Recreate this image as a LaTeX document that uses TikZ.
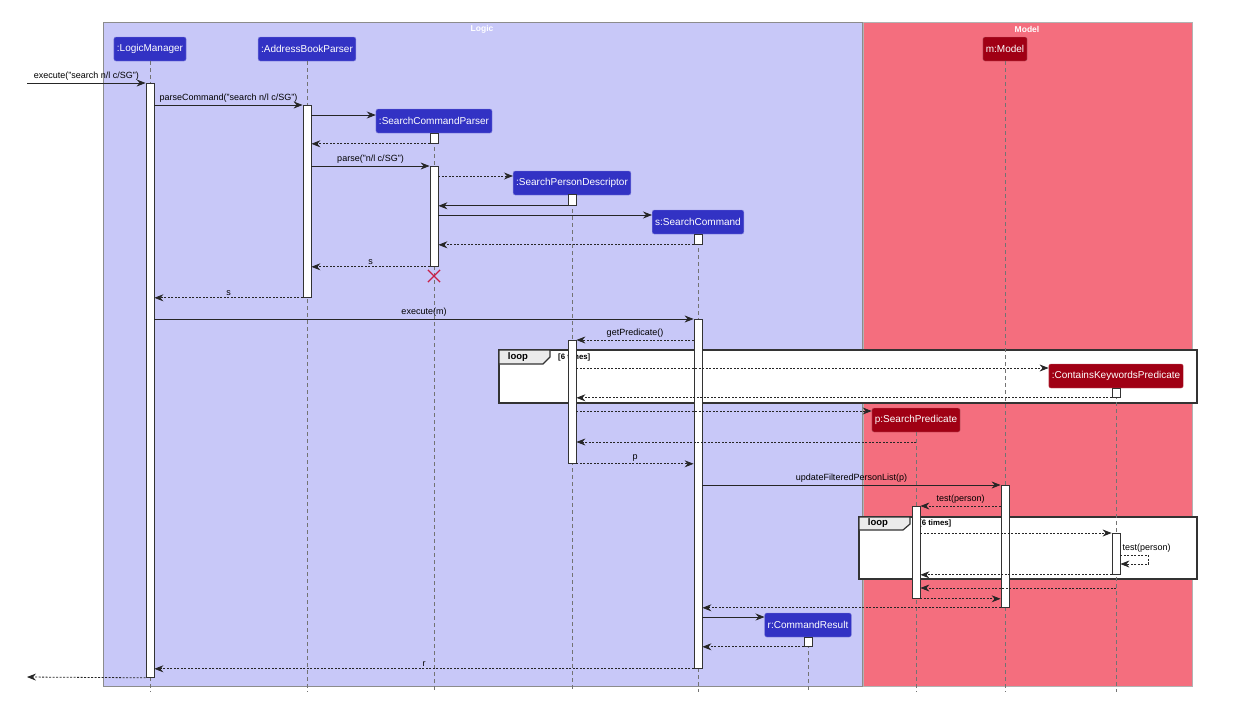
\documentclass[tikz,border=0pt]{standalone}
\usepackage{fontspec}
\setmainfont{Liberation Sans}
\usetikzlibrary{arrows.meta, positioning, shapes.misc}
\definecolor{logicbg}{RGB}{200,200,248}
\definecolor{modelbg}{RGB}{244,110,126}
\definecolor{logicfg}{RGB}{50,50,196}
\definecolor{modelfg}{RGB}{160,0,20}
\definecolor{lifegray}{gray}{0.45}
\definecolor{killred}{RGB}{200,30,70}

\begin{document}
\begin{tikzpicture}[x=1pt, y=-1pt,
  lpart/.style={fill=logicfg, draw=logicfg!60!white, rounded corners=2pt, text=white, font=\fontsize{10}{12}\selectfont, minimum height=24pt, inner xsep=3pt, inner ysep=0pt},
  mpart/.style={lpart, fill=modelfg, draw=modelfg!60!white},
  act/.style={draw=black!80, fill=white, minimum width=8pt, inner sep=0pt, anchor=north, line width=0.8pt},
  life/.style={draw=lifegray, dash pattern=on 4pt off 3pt, line width=0.7pt},
  call/.style={-{Stealth[length=9pt, width=7pt, inset=3pt]}, line width=0.8pt, draw=black!85},
  ret/.style={call, dash pattern=on 2pt off 1.5pt},
  lbl/.style={font=\fontsize{9}{10}\selectfont, above, inner sep=2pt},
  title/.style={font=\bfseries\fontsize{8.5}{10}\selectfont, text=white},
  loopbox/.style={draw=black!80, line width=1.5pt, fill=white},
  looptab/.style={draw=black!80, line width=1.2pt, fill=black!8},
  looptxt/.style={font=\bfseries\fontsize{9.5}{10}\selectfont},
  condtxt/.style={font=\bfseries\fontsize{7.8}{8}\selectfont, anchor=west, inner sep=0pt}
]
\useasboundingbox (0,0) rectangle (1244,705);
\fill[white] (0,0) rectangle (1244,705);

% boxes
\draw[fill=logicbg, draw=black!45] (103,22) rectangle (862,686);
\node[title] (logict) at (482,29) {Logic};
\draw[fill=modelbg, draw=black!30] (863,22) rectangle (1192,686);
\node[title] (modelt) at (1027,29) {Model};

% loops
\draw[loopbox] (499,350) rectangle (1197,403);
\draw[looptab] (499,350) -- (550,350) -- (550,357) -- (543,364) -- (499,364) -- cycle;
\node[looptxt] (loop1) at (518,357) {loop};
\node[condtxt] (cond1) at (558,357) {[6 times]};
\draw[loopbox] (859,517) rectangle (1197,579);
\draw[looptab] (859,517) -- (910,517) -- (910,524) -- (903,530) -- (859,530) -- cycle;
\node[looptxt] (loop2) at (878,523) {loop};
\node[condtxt] (cond2) at (919,523) {[6 times]};

% participants
\node[lpart] (lm) at (150,49) {:LogicManager};
\node[lpart] (abp) at (307,49) {:AddressBookParser};
\node[lpart] (scp) at (434,121) {:SearchCommandParser};
\node[lpart] (spd) at (572,183) {:SearchPersonDescriptor};
\node[lpart] (sc) at (698,222) {s:SearchCommand};
\node[lpart] (cr) at (808,625) {r:CommandResult};
\node[mpart] (mdl) at (1005,49) {m:Model};
\node[mpart] (ckp) at (1116,376) {:ContainsKeywordsPredicate};
\node[mpart] (sp) at (916,420) {p:SearchPredicate};

% lifelines
\foreach \p in {lm,abp,scp,spd,sc,cr,mdl,ckp,sp}
  \draw[life] (\p.south) -- (\p.south |- 0,692);

% activations
\node[act, minimum height=594pt] (lmA) at (150,83) {};
\node[act, minimum height=192pt] (abpA) at (307,105) {};
\node[act, minimum height=10pt] (scp1) at (434,133) {};
\node[act, minimum height=100pt] (scp2) at (434,166) {};
\node[act, minimum height=11pt] (spdA) at (572,194) {};
\node[act, minimum height=10pt] (scA1) at (698,234) {};
\node[act, minimum height=349pt] (scA2) at (698,319) {};
\node[act, minimum height=123pt] (spd2) at (572,340) {};
\node[act, minimum height=9pt] (ckp1) at (1116,388) {};
\node[act, minimum height=122pt] (mA) at (1005,485) {};
\node[act, minimum height=92pt] (spA) at (916,506) {};
\node[act, minimum height=41pt] (ckp2) at (1116,533) {};
\node[act, minimum height=9pt] (crA) at (808,637) {};
\node[cross out, draw=killred, line width=1.2pt, minimum size=11pt, inner sep=0pt] (scpX) at (434,276) {};

% messages
\coordinate (in) at (27,83);
\coordinate (out) at (27,677);
\draw[call] (in) -- node[lbl] (m1) {execute("search n/l c/SG")} (lmA.north west);
\draw[call] (lmA.east |- abpA.north) -- node[lbl] (m2) {parseCommand("search n/l c/SG")} (abpA.north west);
\draw[call] (abpA.east |- 0,115) -- (scp.west |- 0,115);
\draw[ret] (scp1.south west) -- (abpA.east |- scp1.south);
\draw[call] (abpA.east |- scp2.north) -- node[lbl] (m5) {parse("n/l c/SG")} (scp2.north west);
\draw[ret] (scp2.east |- 0,176) -- (spd.west |- 0,176);
\draw[call] (spdA.south west) -- (scp2.east |- spdA.south);
\draw[call] (scp2.east |- 0,215) -- (sc.west |- 0,215);
\draw[ret] (scA1.south west) -- (scp2.east |- scA1.south);
\draw[ret] (scp2.south west) -- node[lbl] (m10) {s} (abpA.east |- scp2.south);
\draw[ret] (abpA.south west) -- node[lbl] (m12) {s} (lmA.east |- abpA.south);
\draw[call] (lmA.east |- scA2.north) -- node[lbl] (m13) {execute(m)} (scA2.north west);
\draw[ret] (scA2.west |- spd2.north) -- node[lbl] (m14) {getPredicate()} (spd2.north east);
\draw[ret] (spd2.east |- 0,368) -- (ckp.west |- 0,368);
\draw[ret] (ckp1.south west) -- (spd2.east |- ckp1.south);
\draw[ret] (spd2.east |- 0,411) -- (sp.west |- 0,411);
\draw[ret] (sp.south |- 0,442) -- (spd2.east |- 0,442);
\draw[ret] (spd2.south east) -- node[lbl] (m20) {p} (scA2.west |- spd2.south);
\draw[call] (scA2.east |- mA.north) -- node[lbl] (m21) {updateFilteredPersonList(p)} (mA.north west);
\draw[ret] (mA.west |- spA.north) -- node[lbl] (m22) {test(person)} (spA.north east);
\draw[ret] (spA.east |- ckp2.north) -- (ckp2.north west);
\draw[ret] (ckp2.east |- 0,555) -- ++(28,0) -- ++(0,9) -- (ckp2.east |- 0,564);
\node[lbl, anchor=south west] (m25) at (ckp2.east |- 0,555) {test(person)};
\draw[ret] (ckp2.south west) -- (spA.east |- ckp2.south);
\draw[ret] (ckp.south |- 0,588) -- (spA.east |- 0,588);
\draw[ret] (spA.south east) -- (mA.west |- spA.south);
\draw[ret] (mA.south west) -- (scA2.east |- mA.south);
\draw[call] (scA2.east |- 0,617) -- (cr.west |- 0,617);
\draw[ret] (crA.south west) -- (scA2.east |- crA.south);
\draw[ret] (scA2.south west) -- node[lbl] (m32) {r} (lmA.east |- scA2.south);
\draw[ret] (lmA.south west) -- (out);
\end{tikzpicture}
\end{document}
